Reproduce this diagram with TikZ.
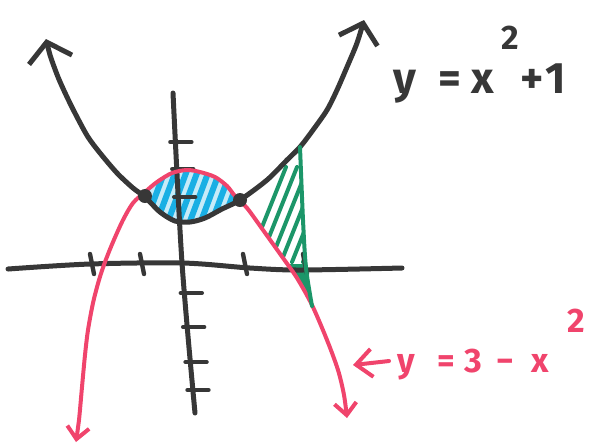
\documentclass[tikz,border=0pt]{standalone}
\usepackage{fontspec}
\setmainfont{Fira Sans}
\usetikzlibrary{arrows.meta}

\definecolor{penblack}{RGB}{55,55,55}
\definecolor{penred}{RGB}{240,68,108}
\definecolor{penblue}{RGB}{25,175,228}
\definecolor{pengreen}{RGB}{28,150,105}

\begin{document}
\begin{tikzpicture}[x=0.5pt, y=-0.5pt, line cap=round, line join=round,
    dot/.style={circle, fill=penblack, inner sep=0pt, minimum size=7pt}]
  \useasboundingbox (0,0) rectangle (599,447);

  % Region between the two curves (blue)
  \begin{scope}
    \clip plot[smooth] coordinates {(145,196) (157,182) (172,173) (187,170) (200,172) (215,177) (227,186) (240,200)}
      -- plot[smooth] coordinates {(240,200) (222,209) (205,218) (190,222) (175,221) (160,212) (145,196)} -- cycle;
    \fill[penblue!25] (130,160) rectangle (250,230);
    \foreach \i in {0,...,11}
      \draw[penblue, line width=3pt] (120+\i*11,232) -- ++(28,-75);
  \end{scope}

  % Region right of the intersection (green)
  \begin{scope}
    \clip plot[smooth] coordinates {(240,200) (267,180) (287,160) (300,147)} -- (303,220) -- (306,268) -- (312,306)
      -- plot[smooth] coordinates {(312,306) (297,278) (283,258) (263,230) (247,208) (240,200)} -- cycle;
    \fill[pengreen] (270,264) rectangle (320,320);
    \foreach \i in {0,...,8}
      \draw[pengreen, line width=2pt] (248+\i*11,262) -- ++(38,-95);
  \end{scope}

  % Axes
  \draw[penblack, line width=2.5pt] plot[smooth] coordinates {(8,269) (90,264) (183,263) (250,268) (300,270) (402,268)};
  \draw[penblack, line width=2.5pt] plot[smooth] coordinates {(173,93) (182,263) (195,413)};

  % Tick marks
  \foreach \x in {92,142,245,305}
    \draw[penblack, line width=2.2pt] (\x-2,254) -- (\x+2,274);
  \foreach \y in {142,169,197,293,327,362,390}
    \draw[penblack, line width=2.2pt] ({173+0.069*(\y-93)-6},\y) -- ++(21,0);

  % y = x^2 + 1
  \draw[penblack, line width=2.5pt, {Straight Barb[length=9pt,width=22pt]}-{Straight Barb[length=9pt,width=20pt]}]
    plot[smooth] coordinates {(46,39) (50,55) (58,77) (67,97) (77,117) (88,137) (100,153) (117,173) (133,188)
      (145,197) (160,212) (175,221) (190,222) (205,218) (222,209) (240,200) (267,180) (287,160) (300,147)
      (313,130) (327,110) (337,90) (347,67) (357,43) (364,20)};

  % y = 3 - x^2
  \draw[penred, line width=2pt, {Straight Barb[length=6pt,width=11pt]}-{Straight Barb[length=6pt,width=11pt]}]
    plot[smooth] coordinates {(76,442) (79,420) (82,387) (85,355) (88,330) (93,303) (99,280) (105,262) (113,242)
      (123,220) (133,203) (145,192) (157,182) (172,173) (187,170) (200,172) (215,177) (227,186) (235,196)
      (247,208) (263,230) (283,258) (297,278) (312,305) (327,340) (338,370) (344,395) (347,418)};

  % Right edge of the green region
  \draw[pengreen, line width=2pt] plot[smooth] coordinates {(300,147) (303,220) (306,268) (312,306)};

  % Intersection points
  \node[dot] (A) at (145,196) {};
  \node[dot] (B) at (240,200) {};

  % Labels
  \node[anchor=base west, text=penblack, font=\fontsize{22}{26}\selectfont\bfseries, inner sep=0pt] (topeq) at (393,93)
    {y\hspace{11pt}=\hspace{5pt}x\hspace{4pt}\raisebox{22pt}{\fontsize{17}{20}\selectfont 2}\hspace{0.5pt}+\hspace{1pt}1};
  \node[anchor=base west, text=penred, font=\fontsize{17}{20}\selectfont\bfseries, inner sep=0pt] (boteq) at (397,372)
    {y\hspace{11pt}=\hspace{5pt}3\hspace{7pt}−\hspace{9pt}x\hspace{9pt}\raisebox{20pt}{2}};
  \coordinate (labtail) at (389,361);
  \coordinate (labtip) at (353,365);
  \draw[penred, line width=2pt, -{Straight Barb[length=8pt,width=14pt]}] (labtail) -- (labtip);
\end{tikzpicture}
\end{document}
